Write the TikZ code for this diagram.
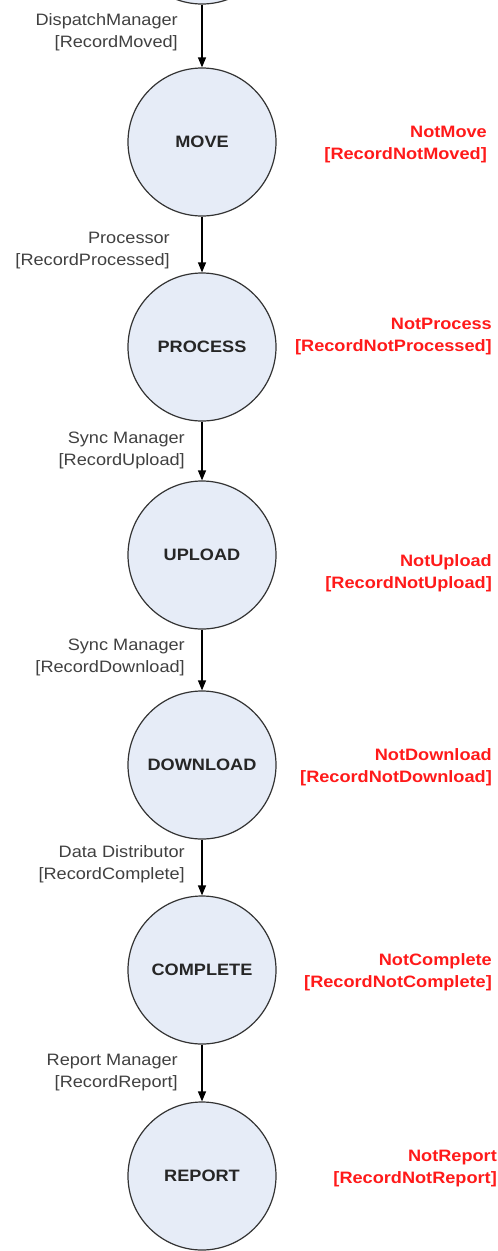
\documentclass[tikz,border=0pt]{standalone}
\usepackage{fontspec}
\setmainfont{Liberation Sans}[FakeStretch=1.1]
\usetikzlibrary{arrows.meta}
\definecolor{statefill}{HTML}{E6ECF7}
\definecolor{statedraw}{HTML}{333333}
\definecolor{labelgray}{HTML}{404040}
\definecolor{failred}{HTML}{FF1A1A}
\tikzset{
  state/.style={circle, draw=statedraw, line width=1.2pt, fill=statefill,
    minimum size=148pt, inner sep=0pt,
    font=\fontsize{16.5}{20}\selectfont\bfseries, text=black!85},
  trans/.style={draw=black, line width=1.2pt,
    -{Triangle[length=10pt,width=8pt]}},
  guard/.style={anchor=east, align=right, inner sep=0pt, text=labelgray,
    font=\fontsize{16.5}{22}\selectfont},
  failnote/.style={anchor=east, align=right, inner sep=0pt, text=failred,
    font=\fontsize{16.5}{22}\selectfont\bfseries},
}
\begin{document}
\begin{tikzpicture}[x=1pt,y=-1pt]
  \useasboundingbox (0,0) rectangle (498,1251);
  \clip (0,0) rectangle (498,1251);

  % lifecycle states, top to bottom
  \node[state] (prev)     at (202,-70)  {};
  \node[state] (move)     at (202,142)  {MOVE};
  \node[state] (process)  at (202,347)  {PROCESS};
  \node[state] (upload)   at (202,555)  {UPLOAD};
  \node[state] (download) at (202,765)  {DOWNLOAD};
  \node[state] (complete) at (202,970)  {COMPLETE};
  \node[state] (report)   at (202,1176) {REPORT};

  % transitions
  \draw[trans] (prev)     -- (move);
  \draw[trans] (move)     -- (process);
  \draw[trans] (process)  -- (upload);
  \draw[trans] (upload)   -- (download);
  \draw[trans] (download) -- (complete);
  \draw[trans] (complete) -- (report);

  % actor and event on each transition
  \node[guard] (g1) at (178,32)   {DispatchManager\\{}[RecordMoved]};
  \node[guard] (g2) at (170,251)  {Processor\\{}[RecordProcessed]};
  \node[guard] (g3) at (185,450)  {Sync Manager\\{}[RecordUpload]};
  \node[guard] (g4) at (185,657)  {Sync Manager\\{}[RecordDownload]};
  \node[guard] (g5) at (185,864)  {Data Distributor\\{}[RecordComplete]};
  \node[guard] (g6) at (178,1073) {Report Manager\\{}[RecordReport]};

  % failure outcomes
  \node[failnote] (f1) at (487,145)  {NotMove\\{}[RecordNotMoved]};
  \node[failnote] (f2) at (492,337)  {NotProcess\\{}[RecordNotProcessed]};
  \node[failnote] (f3) at (492,573)  {NotUpload\\{}[RecordNotUpload]};
  \node[failnote] (f4) at (492,767)  {NotDownload\\{}[RecordNotDownload]};
  \node[failnote] (f5) at (492,972)  {NotComplete\\{}[RecordNotComplete]};
  \node[failnote] (f6) at (497,1169) {NotReport\\{}[RecordNotReport]};
\end{tikzpicture}
\end{document}
